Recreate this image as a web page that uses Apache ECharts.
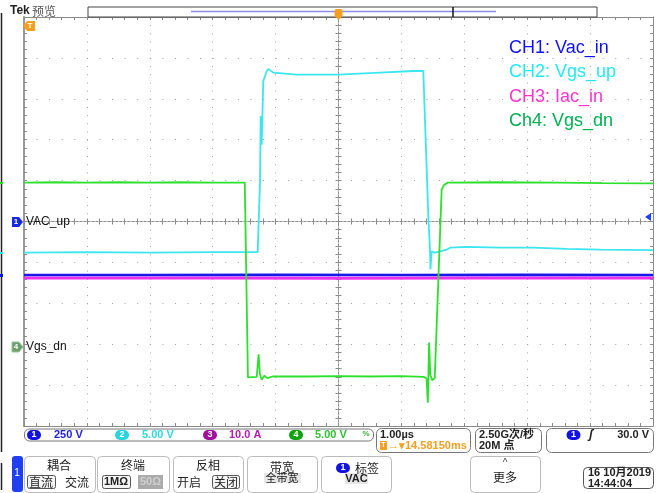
<!DOCTYPE html>
<html>
<head>
<meta charset="utf-8">
<script src="https://cdn.jsdelivr.net/npm/echarts@6/dist/echarts.min.js"></script>
<style>
html,body{margin:0;padding:0;background:#fff;}
#c{width:665px;height:493px;}
</style>
</head>
<body>
<div id="c"></div>
<script>
// ---- Data (time in µs relative to trigger, 1.00 µs/div; amplitude in screen divisions) ----
const ch1_Vac_in = [[-5.0,-1.31],[-3.0,-1.31],[-1.0,-1.30],[1.0,-1.31],[3.0,-1.30],[5.0,-1.31]];
const ch3_Iac_in = [[-5.0,-1.38],[-2.0,-1.38],[0.0,-1.39],[2.0,-1.38],[5.0,-1.38]];
const ch2_Vgs_up = [[-5.0,-0.76],[-4.0,-0.75],[-3.0,-0.76],[-2.0,-0.75],[-1.285,-0.75],[-1.248,0.95],[-1.237,2.58],[-1.221,1.88],[-1.196,3.43],[-1.141,3.68],[-1.116,3.73],[-1.037,3.64],[-0.665,3.59],[0.0,3.59],[0.66,3.64],[1.184,3.68],[1.348,3.68],[1.375,3.64],[1.428,0.13],[1.455,-0.69],[1.462,-1.17],[1.48,-0.73],[1.534,-0.76],[1.56,-0.77],[1.72,-0.69],[1.773,-0.64],[2.038,-0.62],[2.567,-0.64],[3.092,-0.64],[3.628,-0.67],[4.157,-0.69],[5.0,-0.70]];
const ch4_Vgs_dn = [[-5.0,0.95],[-4.5,0.96],[-4.0,0.95],[-3.5,0.96],[-3.0,0.95],[-2.5,0.96],[-2.0,0.95],[-1.49,0.95],[-1.44,-3.81],[-1.30,-3.80],[-1.27,-3.25],[-1.25,-3.72],[-1.22,-3.87],[-1.18,-3.77],[-1.13,-3.83],[-1.05,-3.79],[-0.5,-3.79],[0.0,-3.78],[0.5,-3.79],[1.0,-3.78],[1.36,-3.80],[1.40,-3.84],[1.42,-4.43],[1.44,-2.96],[1.46,-3.75],[1.49,-3.88],[1.53,-3.83],[1.56,-3.79],[1.64,0.78],[1.68,0.90],[1.74,0.95],[2.5,0.96],[3.5,0.95],[4.2,0.94],[5.0,0.93]];

const legendLines = ['CH1: Vac_in','CH2: Vgs_up','CH3: Iac_in','Ch4: Vgs_dn'];
const legendColors = ['#1010ff','#22eaf0','#ff33cc','#00b050'];
const chanScales = ['250 V','5.00 V','10.0 A','5.00 V'];
const timeScale = '1.00µs';
const trigDelay = '14.58150ms';
const sampleInfo = ['2.50G次/秒','20M 点'];
const trigLevel = '30.0 V';
const dateInfo = ['16 10月2019','14:44:04'];

const UI = '"Liberation Sans","Noto Sans CJK SC",sans-serif';
const CJK = '"Noto Sans CJK SC","Liberation Sans",sans-serif';

function txt(x,y,text,font,fill,align){return {type:'text',x:x,y:y,z:50,style:{text:text,font:font,fill:fill,align:align||'left',verticalAlign:'middle'}};}
function rect(x,y,w,h,r,fill,stroke,lw){return {type:'rect',z:40,shape:{x:x,y:y,width:w,height:h,r:r||0},style:{fill:fill||'none',stroke:stroke||null,lineWidth:lw||1}};}
function badge(cx,cy,num,fill){return [
  {type:'rect',z:45,shape:{x:cx-7,y:cy-5,width:14,height:10,r:5},style:{fill:fill}},
  txt(cx,cy,num,'bold 9px '+UI,'#fff','center')];}

const g = [];
// top bar
g.push(txt(10,11,'Tek','bold 12px '+UI,'#222'));
g.push(txt(32,11,'预览','12px '+CJK,'#555'));
g.push(rect(88,7,509,10,0,'#fff','#444',1));
g.push({type:'line',z:46,shape:{x1:191,y1:11.5,x2:496,y2:11.5},style:{stroke:'#8c8cf0',lineWidth:1.5}});
g.push({type:'line',z:46,shape:{x1:453,y1:7,x2:453,y2:17},style:{stroke:'#111',lineWidth:1.5}});
g.push({type:'rect',z:47,shape:{x:334.5,y:9,width:8,height:8,r:2},style:{fill:'#f5a020'}});
g.push({type:'polygon',z:47,shape:{points:[[334.5,16],[342.5,16],[338.5,20]]},style:{fill:'#f5a020'}});
// top-left trigger marker
g.push({type:'polygon',z:47,shape:{points:[[23,26],[27,21],[35,21],[35,31],[27,31]]},style:{fill:'#f5a020'}});
g.push(txt(30,26,'T','bold 8px '+UI,'#fff','center'));
// left edge line
g.push({type:'line',z:40,shape:{x1:1.5,y1:13,x2:1.5,y2:452},style:{stroke:'#222',lineWidth:1.5}});
g.push({type:'line',z:40,shape:{x1:1.5,y1:463,x2:1.5,y2:490},style:{stroke:'#222',lineWidth:1.5}});
g.push(rect(0,182,3,2,0,'#22dd22'));
g.push(rect(0,252,3,2,0,'#30e0e8'));
g.push(rect(0,274,3,3,0,'#1414e0'));
// channel markers
g.push({type:'polygon',z:47,shape:{points:[[12,217],[19,217],[23,222],[19,227],[12,227]]},style:{fill:'#1428e6'}});
g.push(txt(16,222,'1','bold 8px '+UI,'#fff','center'));
g.push(txt(26,222,'VAC_up','12px '+UI,'#111'));
g.push({type:'polygon',z:47,shape:{points:[[12,342],[19,342],[23,347],[19,352],[12,352]]},style:{fill:'#6a9e6a',stroke:'#9cc49c',lineWidth:1}});
g.push(txt(16,347,'4','bold 8px '+UI,'#fff','center'));
g.push(txt(26,347,'Vgs_dn','12px '+UI,'#111'));
g.push({type:'polygon',z:47,shape:{points:[[645,217],[651,213],[651,221]]},style:{fill:'#2040ff'}});
// legend text
legendLines.forEach(function(s,i){ g.push(txt(509,48+i*24.3,s,'18px "Liberation Sans",sans-serif',legendColors[i])); });
// channel bar
g.push(rect(24.5,429,349,12,5,'#fff','#777',1));
const badgeX=[34,122,210,296], valX=[54,142,229,315];
const badgeC=['#1414e0','#2ad4dc','#a0109c','#10a010'], valC=['#2020e0','#30d8e0','#b020b0','#30c030'];
for(let i=0;i<4;i++){ g.push.apply(g,badge(badgeX[i],435,String(i+1),badgeC[i])); g.push(txt(valX[i],435,chanScales[i],'bold 11px '+UI,valC[i])); }
g.push(txt(366,434,'%','bold 8px '+UI,'#40b040','center'));
// time box
g.push(rect(376.5,428.5,94,24,5,'#fff','#777',1));
g.push(txt(380,435,timeScale,'bold 11px '+UI,'#222'));
g.push(rect(380,441,7,9,1,'#f5a020'));
g.push(txt(383.5,445.5,'T','bold 7px '+UI,'#fff','center'));
g.push(txt(388,446,'→▾'+trigDelay,'bold 11px '+UI,'#f5a020'));
// sample box
g.push(rect(475.5,428.5,66,24,5,'#fff','#777',1));
g.push(txt(479,435,sampleInfo[0],'bold 11px '+UI,'#222'));
g.push(txt(479,446,sampleInfo[1],'bold 11px '+UI,'#222'));
// trigger box
g.push(rect(546.5,428.5,107,24,5,'#fff','#777',1));
g.push.apply(g,badge(573.5,435,'1','#1414e0'));
g.push(txt(591,435,'ʃ','bold italic 12px '+UI,'#222','center'));
g.push(txt(649,435,trigLevel,'bold 11px '+UI,'#222','right'));
// bottom buttons
g.push(rect(12,456,11,36,3,'#2040f0'));
g.push(txt(17,473,'1','10px '+UI,'#fff','center'));
function btn(x,w){ g.push(rect(x+0.5,456.5,w,36,4,'#fff','#bbb',1)); }
btn(24,71); g.push(txt(59,465,'耦合','12px '+CJK,'#222','center'));
g.push(rect(27.5,475.5,28,13,2,'#f4f4f4','#555',1)); g.push(txt(41,482,'直流','12px '+CJK,'#222','center'));
g.push(txt(77,482,'交流','12px '+CJK,'#222','center'));
btn(97,72); g.push(txt(133,465,'终端','12px '+CJK,'#222','center'));
g.push(rect(102.5,475.5,28,13,2,'#f4f4f4','#555',1)); g.push(txt(116,482,'1MΩ','bold 11px '+UI,'#222','center'));
g.push(rect(138,475,25,14,0,'#aaaaaa')); g.push(txt(150.5,482,'50Ω','bold 11px '+UI,'#cfcfcf','center'));
btn(173,70); g.push(txt(208,465,'反相','12px '+CJK,'#222','center'));
g.push(txt(189,482,'开启','12px '+CJK,'#222','center'));
g.push(rect(212.5,475.5,27,13,2,'#f4f4f4','#555',1)); g.push(txt(226,482,'关闭','12px '+CJK,'#222','center'));
btn(247,70); g.push(txt(282,467,'带宽','12px '+CJK,'#222','center'));
g.push(rect(264,473,37,10,0,'#e6e6e6')); g.push(txt(282,478,'全带宽','11px '+CJK,'#222','center'));
btn(321,70); g.push.apply(g,badge(343,468,'1','#1414e0')); g.push(txt(355,468,'标签','12px '+CJK,'#222'));
g.push(rect(345,473,23,11,0,'#e6e6e6')); g.push(txt(356.5,479,'VAC','bold 11px '+UI,'#222','center'));
btn(470,70); g.push(txt(505,463,'^','10px '+UI,'#444','center')); g.push(txt(505,477,'更多','12px '+CJK,'#222','center'));
g.push(rect(583.5,467.5,70,21,4,'#fff','#555',1));
g.push(txt(588,473,dateInfo[0],'bold 11px '+UI,'#222'));
g.push(txt(588,484,dateInfo[1],'bold 11px '+UI,'#222'));

const tickStyle = {color:'#8a8a8a',width:1};
const centerLine = {color:'#8e8e8e',width:1,type:[2,2]};
function xa(extra){ return Object.assign({type:'value',min:-5,max:5,interval:1,axisLabel:{show:false},splitLine:{show:false},
  axisTick:{show:true,inside:true,length:3,lineStyle:tickStyle},minorTick:{show:true,splitNumber:5,length:3,lineStyle:tickStyle}},extra); }

const chart = echarts.init(document.getElementById('c'),null,{renderer:'canvas'});
chart.setOption({
  animation:false,
  backgroundColor:'#ffffff',
  grid:{left:24,right:12,top:17,bottom:67,show:false},
  xAxis:[
    xa({position:'bottom',axisLine:{onZero:true,lineStyle:centerLine},
        splitLine:{show:true,lineStyle:{color:'#a2a2a2',width:1,type:[1,7.18]}}}),
    xa({position:'top',axisLine:{onZero:false,lineStyle:{color:'#8a8a8a',width:1}}}),
    xa({position:'bottom',axisLine:{onZero:false,lineStyle:{color:'#8a8a8a',width:1}}}),
    xa({position:'bottom',axisLine:{onZero:true,onZeroAxisIndex:0,lineStyle:centerLine},axisTick:{show:true,inside:false,length:3,lineStyle:tickStyle}})
  ],
  yAxis:[
    xa({position:'left',axisLine:{onZero:true,lineStyle:centerLine},
        splitLine:{show:true,lineStyle:{color:'#a2a2a2',width:1,type:[1,11.58]}}}),
    xa({position:'left',axisLine:{onZero:false,lineStyle:{color:'#9a9a9a',width:2}}}),
    xa({position:'right',axisLine:{onZero:false,lineStyle:{color:'#8a8a8a',width:1}}}),
    xa({position:'left',axisLine:{onZero:true,onZeroAxisIndex:0,lineStyle:centerLine},axisTick:{show:true,inside:false,length:3,lineStyle:tickStyle}})
  ],
  series:[
    {name:'CH3',type:'line',data:ch3_Iac_in,showSymbol:false,lineStyle:{color:'#ee30ee',width:3},z:3},
    {name:'CH1',type:'line',data:ch1_Vac_in,showSymbol:false,lineStyle:{color:'#1818e8',width:2.5},z:4},
    {name:'CH2',type:'line',data:ch2_Vgs_up,showSymbol:false,lineStyle:{color:'#3ce6ee',width:1.8},z:5},
    {name:'CH4',type:'line',data:ch4_Vgs_dn,showSymbol:false,lineStyle:{color:'#2ee02e',width:1.8},z:6}
  ],
  graphic:g
});
</script>
</body>
</html>
